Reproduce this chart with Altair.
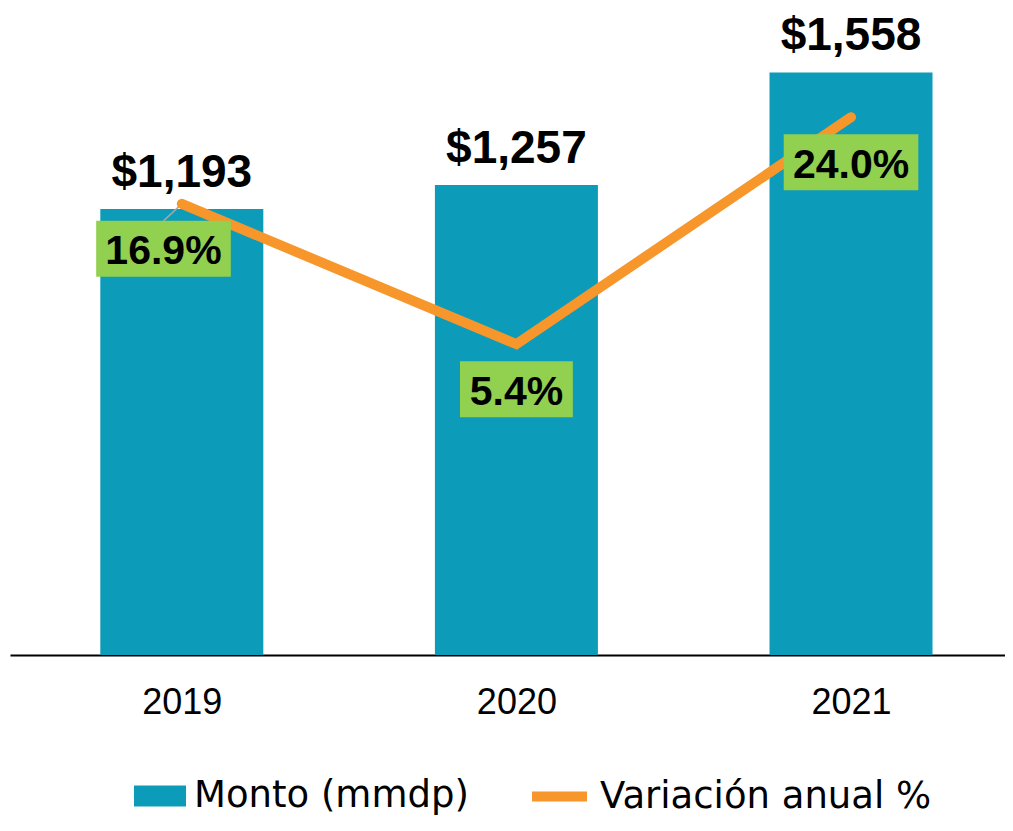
import json
import altair as alt
import pandas as pd

# ---- data ----
years = ["2019", "2020", "2021"]
monto = [1193, 1257, 1558]            # Monto (mmdp)
variacion = [16.9, 5.4, 24.0]         # Variación anual %
series = ["Monto (mmdp)", "Variación anual %"]

TEAL = "#0C9BB8"
ORANGE = "#F7962B"
GREEN = "#92D050"

df = pd.DataFrame({
    "year": years,
    "idx": list(range(len(years))),
    "monto": monto,
    "var": variacion,
})

STEP = 338.0          # px between category centres
W, H = 995, 645
x0 = -168.5 / STEP
x_scale = alt.Scale(domain=[x0, x0 + W / STEP], nice=False, zero=False)
x_axis = alt.Axis(
    values=list(range(len(years))),
    labelExpr=json.dumps(years) + "[datum.value]",
    title=None, grid=False, ticks=False, tickSize=0,
    domainColor="black", domainWidth=2,
    labelFont="Liberation Sans", labelFontSize=36, labelColor="black",
    labelPadding=58, labelBaseline="alphabetic", labelFlush=False,
    labelOverlap=False,
)

y_bar = alt.Scale(domain=[0, 1725], nice=False, zero=False)
y_line = alt.Scale(domain=[-20.08, 32.79], nice=False, zero=False)

common_legend = dict(
    orient="none", direction="horizontal", title=None,
    labelFont="DejaVu Sans", labelFontSize=37, labelColor="black",
    labelOffset=8, padding=0, labelLimit=1000,
    symbolOpacity=1,
)
legend_bar = alt.Legend(
    legendX=124, legendY=760,
    symbolType="M-1,-0.4H1V0.4H-1Z", symbolStrokeWidth=0, symbolSize=2704,
    **common_legend,
)
legend_line = alt.Legend(
    legendX=517, legendY=754,
    symbolType="stroke", symbolStrokeWidth=10, symbolSize=3025,
    **common_legend,
)

base = alt.Chart(df).transform_calculate(
    vlabel="format(datum.var, '.1f') + '%'",
).transform_calculate(
    bx=f"datum.idx + (datum.idx == 0 ? {-18.5 / STEP} : 0)",
    hw=f"(11 * length(datum.vlabel) + 13) / {STEP}",
).transform_calculate(
    bx0="datum.bx - datum.hw",
    bx1="datum.bx + datum.hw",
)

X = alt.X("idx:Q", scale=x_scale, axis=x_axis)

bars = base.transform_calculate(serie=f"'{series[0]}'").mark_bar(width=163).encode(
    x=X,
    y=alt.Y("monto:Q", scale=y_bar, axis=None),
    color=alt.Color("serie:N", scale=alt.Scale(domain=[series[0]], range=[TEAL]),
                    legend=legend_bar),
)
bar_labels = base.mark_text(
    dy=-22, baseline="alphabetic", fontSize=46, fontWeight="bold",
    font="Liberation Sans", color="black",
).encode(
    x=X,
    y=alt.Y("monto:Q", scale=y_bar, axis=None),
    text=alt.Text("monto:Q", format="$,"),
)

leader = base.transform_filter("abs(datum.bx - datum.idx) > 0.001").mark_rule(
    color="#A6A6A6", strokeWidth=1.5, y2Offset=17,
).encode(
    x=X, x2="bx:Q",
    y=alt.Y("var:Q", scale=y_line, axis=None), y2="var:Q",
)
line = base.transform_calculate(serie=f"'{series[1]}'").mark_line(
    strokeWidth=10, strokeCap="round", strokeJoin="miter",
).encode(
    x=X,
    y=alt.Y("var:Q", scale=y_line, axis=None),
    stroke=alt.Stroke("serie:N", scale=alt.Scale(domain=[series[1]], range=[ORANGE]),
                      legend=legend_line),
)
boxes = base.mark_rect(color=GREEN, yOffset=17, y2Offset=73).encode(
    x=alt.X("bx0:Q", scale=x_scale, axis=x_axis), x2="bx1:Q",
    y=alt.Y("var:Q", scale=y_line, axis=None), y2="var:Q",
)
pct_labels = base.mark_text(
    dy=60.5, baseline="alphabetic", fontSize=41, fontWeight="bold",
    font="Liberation Sans", color="black",
).encode(
    x=alt.X("bx:Q", scale=x_scale, axis=x_axis),
    y=alt.Y("var:Q", scale=y_line, axis=None),
    text="vlabel:N",
)

chart = alt.layer(
    alt.layer(bars, bar_labels),
    alt.layer(leader, line, boxes, pct_labels),
).resolve_scale(y="independent").properties(
    width=W, height=H,
    autosize=alt.AutoSizeParams(type="none"),
    padding={"left": 2, "top": 2, "right": 0, "bottom": 162},
).configure_view(stroke=None)

chart.save("out.html", embed_options={"renderer": "svg", "actions": False})
